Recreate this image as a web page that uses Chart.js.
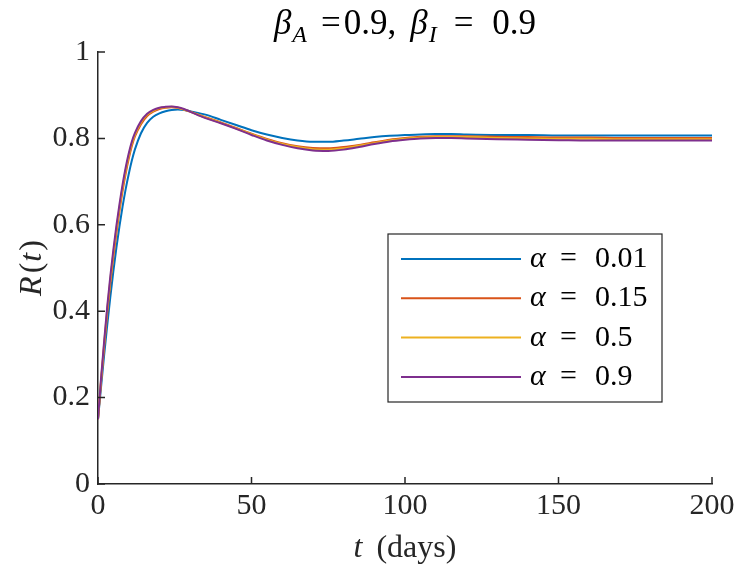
<!DOCTYPE html>
<html><head><meta charset="utf-8">
<script src="https://cdn.jsdelivr.net/npm/chart.js@4.4.0/dist/chart.umd.min.js"></script>
<style>html,body{margin:0;padding:0;background:#fff;}</style>
</head><body>
<canvas id="c" width="747" height="576" style="width:747px;height:576px;display:block"></canvas>
<script>
const days = [0,1,2,3,4,5,6,7,8,9,10,11,12,14,16,18,20,22,24,26,28,30,35,40,45,50,55,60,65,70,75,80,85,90,95,100,105,110,115,120,130,140,150,160,170,180,190,200];
const alphaLabels = ['0.01','0.15','0.5','0.9'];
const rAlpha001 = [0.15,0.225,0.298,0.367,0.432,0.492,0.547,0.597,0.642,0.682,0.717,0.748,0.774,
  0.812,0.836,0.850,0.858,0.863,0.866,0.867,0.866,0.863,
  0.855,0.843,0.831,0.819,0.809,0.801,0.795,0.792,0.792,0.795,0.799,0.803,0.806,0.808,0.809,0.810,0.810,0.809,
  0.808,0.808,0.807,0.807,0.807,0.807,0.807,0.807];
const rAlpha015 = [0.15,0.237,0.318,0.395,0.463,0.525,0.581,0.632,0.678,0.718,0.753,0.782,0.804,
  0.833,0.852,0.862,0.868,0.871,0.872,0.871,0.867,0.862,
  0.849,0.837,0.824,0.811,0.799,0.789,0.782,0.778,0.777,0.780,0.785,0.791,0.797,0.801,0.804,0.805,0.805,0.805,
  0.804,0.803,0.802,0.802,0.801,0.801,0.801,0.801];
const rAlpha05 = [0.15,0.241,0.324,0.403,0.472,0.534,0.590,0.640,0.686,0.725,0.759,0.787,0.808,
  0.837,0.855,0.864,0.870,0.872,0.873,0.871,0.867,0.862,
  0.848,0.836,0.823,0.810,0.797,0.787,0.780,0.775,0.774,0.777,0.783,0.789,0.795,0.799,0.802,0.803,0.803,0.803,
  0.801,0.800,0.799,0.799,0.798,0.798,0.798,0.798];
const rAlpha09 = [0.15,0.245,0.33,0.41,0.48,0.542,0.598,0.648,0.693,0.732,0.765,0.792,0.812,
  0.840,0.857,0.866,0.871,0.873,0.874,0.872,0.868,0.862,
  0.847,0.835,0.822,0.808,0.795,0.785,0.777,0.772,0.771,0.774,0.780,0.787,0.793,0.797,0.800,0.801,0.801,0.800,
  0.798,0.797,0.796,0.795,0.795,0.795,0.795,0.795];
const xTicks = [0,50,100,150,200];
const yTicks = [0,0.2,0.4,0.6,0.8,1];
const yTickLabels = ['0','0.2','0.4','0.6','0.8','1'];

const seriesValues = [rAlpha001, rAlpha015, rAlpha05, rAlpha09];
const colors = ['#0072BD','#D95319','#EDB120','#7E2F8E'];
const AX = '#262626';
const SERIF = "'Liberation Serif', 'DejaVu Serif', serif";

const datasets = seriesValues.map((vals, i) => ({
  label: alphaLabels[i],
  data: days.map((d, j) => ({x: d, y: vals[j]})),
  borderColor: colors[i],
  backgroundColor: colors[i],
  borderWidth: 2,
  pointRadius: 0,
  fill: false,
  cubicInterpolationMode: 'monotone',
  order: seriesValues.length - i
}));

function drawPieces(ctx, pieces, cx, baseline) {
  let total = 0;
  pieces.forEach(p => { ctx.font = p.font; p.w = ctx.measureText(p.text).width; total += (p.gap || 0) + p.w; });
  let x = cx - total / 2;
  ctx.textAlign = 'left';
  ctx.textBaseline = 'alphabetic';
  pieces.forEach(p => {
    x += (p.gap || 0);
    ctx.font = p.font;
    ctx.fillText(p.text, x, baseline + (p.dy || 0));
    x += p.w;
  });
}

const F = "30px " + SERIF;
const FI = "italic 30px " + SERIF;
const TF = "35px " + SERIF;
const TFI = "italic 35px " + SERIF;
const TFS = "italic 24px " + SERIF;
const LF = "32px " + SERIF;
const LFI = "italic 32px " + SERIF;

const decor = {
  id: 'decor',
  afterDraw(chart) {
    const ctx = chart.ctx;
    const xs = chart.scales.x, ys = chart.scales.y;
    const ca = chart.chartArea;
    ctx.save();
    ctx.strokeStyle = AX;
    ctx.lineWidth = 1.5;
    ctx.beginPath();
    xTicks.forEach(v => { const px = xs.getPixelForValue(v); ctx.moveTo(px, ca.bottom); ctx.lineTo(px, ca.bottom - 7); });
    yTicks.forEach(v => { const py = ys.getPixelForValue(v); ctx.moveTo(ca.left, py); ctx.lineTo(ca.left + 7, py); });
    ctx.stroke();

    ctx.fillStyle = '#000';
    // title
    drawPieces(ctx, [
      {text: 'β', font: TFI},
      {text: 'A', font: TFS, dy: 8, gap: 1},
      {text: '=', font: TF, gap: 14},
      {text: '0.9,', font: TF, gap: 3},
      {text: 'β', font: TFI, gap: 14},
      {text: 'I', font: TFS, dy: 8, gap: 1},
      {text: '=', font: TF, gap: 17},
      {text: '0.9', font: TF, gap: 19}
    ], (ca.left + ca.right) / 2, 34);

    // x label
    ctx.fillStyle = AX;
    drawPieces(ctx, [
      {text: 't', font: LFI},
      {text: '(days)', font: LF, gap: 14}
    ], (ca.left + ca.right) / 2, 557);

    // y label
    ctx.save();
    ctx.translate(41, (ca.top + ca.bottom) / 2);
    ctx.rotate(-Math.PI / 2);
    drawPieces(ctx, [
      {text: 'R', font: LFI},
      {text: '(', font: LF, gap: 3},
      {text: 't', font: LFI, gap: 1},
      {text: ')', font: LF, gap: 2}
    ], 0, 0);
    ctx.restore();

    // legend
    const bx = 388, by = 234, bw = 274, bh = 168;
    ctx.fillStyle = '#fff';
    ctx.fillRect(bx, by, bw, bh);
    ctx.strokeStyle = AX;
    ctx.lineWidth = 1.2;
    ctx.strokeRect(bx, by, bw, bh);
    const rowH = 39.3;
    chart.data.datasets.forEach((ds, i) => {
      const ry = by + 25 + i * rowH;
      ctx.strokeStyle = ds.borderColor;
      ctx.lineWidth = 2;
      ctx.beginPath();
      ctx.moveTo(bx + 13, ry);
      ctx.lineTo(bx + 133, ry);
      ctx.stroke();
      ctx.fillStyle = '#000';
      ctx.textAlign = 'left';
      ctx.textBaseline = 'alphabetic';
      ctx.font = FI;
      ctx.fillText('α', bx + 142, ry + 8);
      ctx.font = F;
      ctx.fillText('=', bx + 172, ry + 8);
      ctx.fillText(ds.label, bx + 207, ry + 8);
    });
    ctx.restore();
  }
};

new Chart(document.getElementById('c'), {
  type: 'line',
  data: { datasets },
  options: {
    responsive: false,
    animation: false,
    devicePixelRatio: 1,
    layout: { padding: { left: 0, right: 35, top: 52, bottom: 0 } },
    plugins: { legend: { display: false }, tooltip: { enabled: false }, title: { display: false } },
    scales: {
      x: {
        type: 'linear', min: 0, max: 200,
        grid: { display: false, drawTicks: false },
        border: { display: true, color: AX, width: 1.5 },
        ticks: { stepSize: 50, font: { family: SERIF, size: 30 }, color: AX, padding: 4, maxRotation: 0 },
        afterFit(s) { s.height = 92; }
      },
      y: {
        type: 'linear', min: 0, max: 1,
        grid: { display: false, drawTicks: false },
        border: { display: true, color: AX, width: 1.5 },
        ticks: {
          stepSize: 0.2, font: { family: SERIF, size: 30 }, color: AX, padding: 8,
          callback: (v) => { const k = yTicks.findIndex(t => Math.abs(t - v) < 1e-6); return k >= 0 ? yTickLabels[k] : ''; }
        },
        afterFit(s) { s.width = 98; }
      }
    }
  },
  plugins: [decor]
});
</script>
</body></html>
